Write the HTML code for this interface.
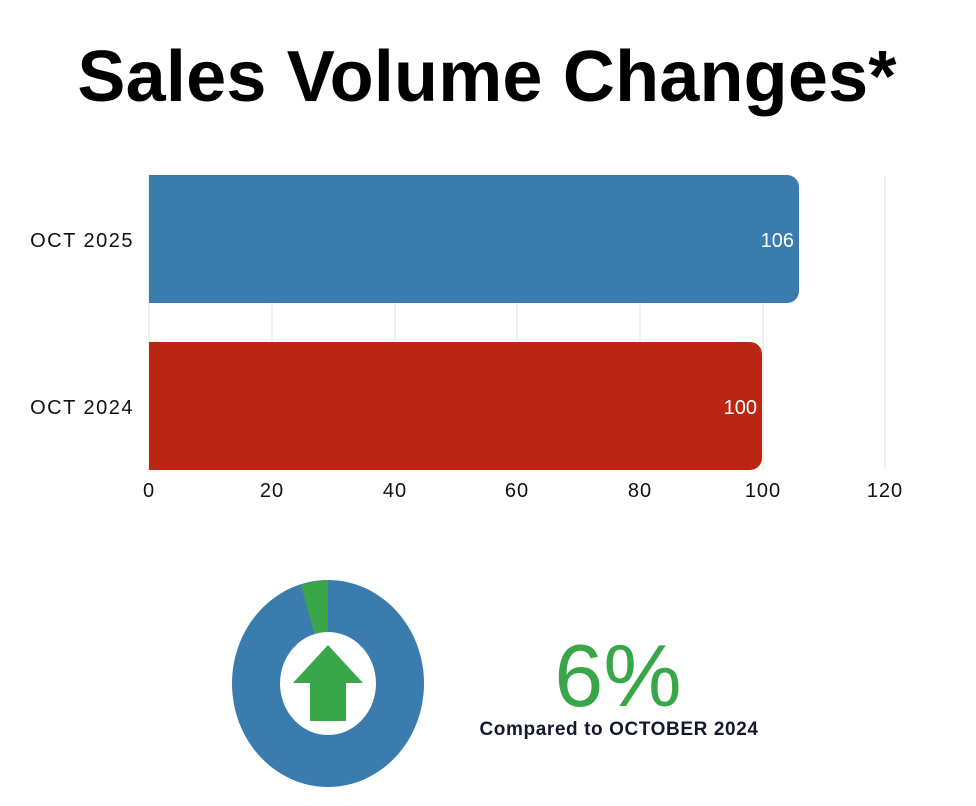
<!DOCTYPE html>
<html><head><style>
body{margin:0;width:976px;height:801px;background:#fff;overflow:hidden;font-family:"Liberation Sans",sans-serif}
</style></head><body>
<svg width="976" height="801" xmlns="http://www.w3.org/2000/svg">
<text x="487" y="101" text-anchor="middle" font-family="Liberation Sans" font-weight="bold" font-size="72" letter-spacing="0.2" fill="#000">Sales Volume Changes*</text>
<g stroke="#e6e6e6" stroke-width="1">
<line x1="272" y1="175" x2="272" y2="470"/><line x1="395" y1="175" x2="395" y2="470"/>
<line x1="517" y1="175" x2="517" y2="470"/><line x1="640" y1="175" x2="640" y2="470"/>
<line x1="763" y1="175" x2="763" y2="470"/><line x1="885" y1="175" x2="885" y2="470"/>
<line x1="149" y1="175" x2="149" y2="470"/>
</g>
<path d="M149 175 H787 a12 12 0 0 1 12 12 V291 a12 12 0 0 1 -12 12 H149Z" fill="#3b7caf"/>
<path d="M149 342 H750 a12 12 0 0 1 12 12 V458 a12 12 0 0 1 -12 12 H149Z" fill="#bb2614"/>
<text x="794" y="247" text-anchor="end" font-size="20" fill="#fff">106</text>
<text x="757" y="414" text-anchor="end" font-size="20" fill="#fff">100</text>
<text x="134" y="247" text-anchor="end" font-size="20" letter-spacing="1.5" fill="#111">OCT 2025</text>
<text x="134" y="414" text-anchor="end" font-size="20" letter-spacing="1.5" fill="#111">OCT 2024</text>
<g font-size="20" fill="#111" text-anchor="middle" letter-spacing="1">
<text x="149" y="497">0</text><text x="272" y="497">20</text><text x="395" y="497">40</text>
<text x="517" y="497">60</text><text x="640" y="497">80</text><text x="763" y="497">100</text><text x="885" y="497">120</text>
</g>
<ellipse cx="328" cy="683.5" rx="96" ry="103.5" fill="#3b7caf"/>
<path d="M328 683.5 L328 580 A96 103.5 0 0 0 301 585 Z" fill="#3aa64a"/>
<ellipse cx="328" cy="683.5" rx="48" ry="51.5" fill="#fff"/>
<path d="M328 645 L363 683 H346 V721 H310 V683 H293 Z" fill="#3aa64a"/>
<text x="618" y="706" text-anchor="middle" font-size="88" fill="#3aa64a">6%</text>
<text x="619" y="735" text-anchor="middle" font-size="19" font-weight="bold" letter-spacing="0.6" fill="#14182e">Compared to OCTOBER 2024</text>
</svg>
</body></html>
